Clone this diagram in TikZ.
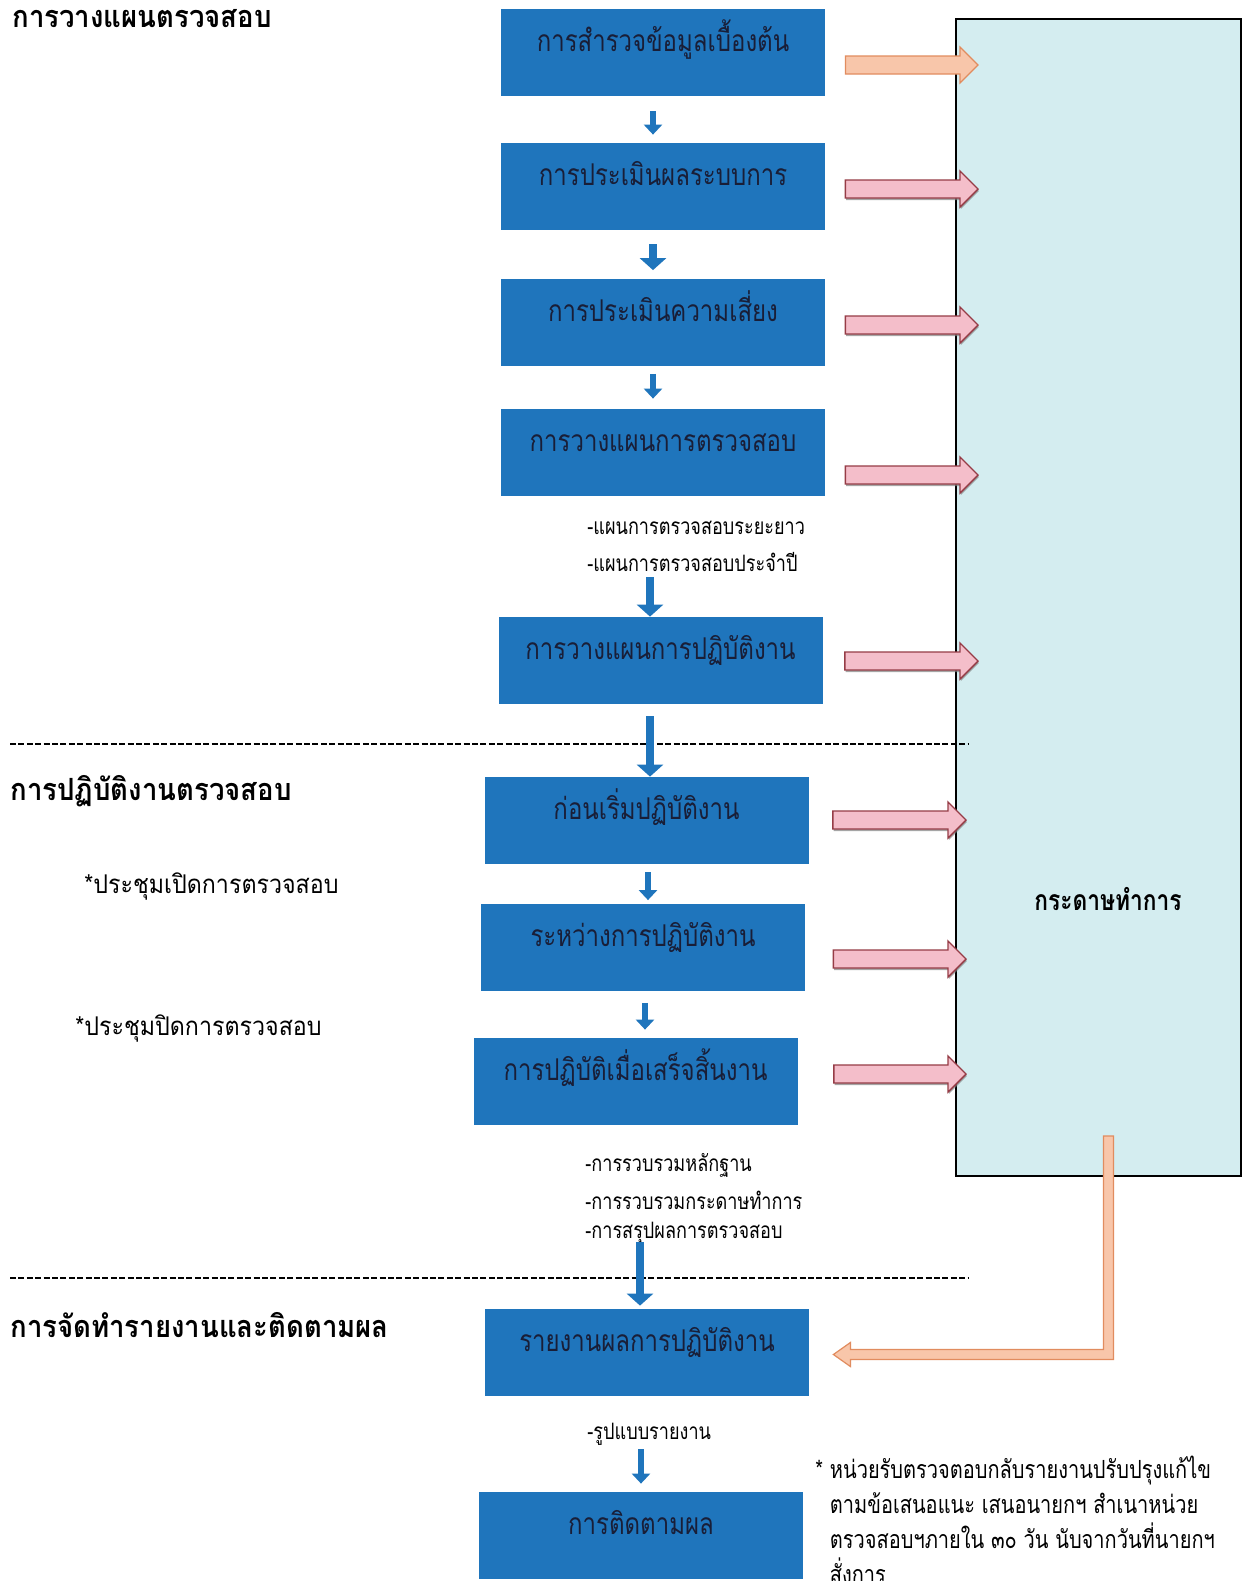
\documentclass[tikz,border=0pt]{standalone}
\usepackage{fontspec}
\newfontfamily\thaihead[Script=Thai, FakeStretch=0.9]{Loma}
\newfontfamily\thaibox[Script=Thai, FakeStretch=0.8]{Loma}
\usetikzlibrary{calc, arrows.meta, shadows}

\definecolor{boxblue}{RGB}{31,117,188}
\definecolor{paperbg}{RGB}{212,237,240}
\definecolor{pinkfill}{RGB}{244,190,202}
\definecolor{pinkline}{RGB}{150,60,70}
\definecolor{peachfill}{RGB}{248,198,170}
\definecolor{peachline}{RGB}{225,140,95}
\definecolor{inktext}{RGB}{25,30,55}

\tikzset{
  stepbox/.style={fill=boxblue, minimum width=162pt, minimum height=43.5pt, inner sep=0pt,
    text height=5pt, text depth=6pt, font=\thaibox\fontsize{15}{18}\selectfont, text=inktext},
  downarr/.style={draw=boxblue, line width=3pt, -{Triangle[width=9pt,length=5pt]}},
  bigdownarr/.style={draw=boxblue, line width=4pt, -{Triangle[width=13pt,length=6pt]}},
  header/.style={anchor=west, inner sep=0pt, font=\thaihead\bfseries\fontsize{15.3}{18}\selectfont},
  sidenote/.style={anchor=west, inner sep=0pt, font=\thaihead\fontsize{12.9}{16}\selectfont},
  sublist/.style={anchor=west, inner sep=0pt, font=\thaibox\fontsize{11.3}{13}\selectfont},
  noteblock/.style={anchor=north west, inner sep=0pt, align=left, font=\thaibox\fontsize{12.5}{17.5}\selectfont},
  sepline/.style={line width=0.6pt, dash pattern=on 3pt off 1.2pt},
  pinkarr/.style={fill=pinkfill, draw=pinkline, line width=0.7pt,
    drop shadow={shadow xshift=0.4pt, shadow yshift=-1pt, opacity=0.7}},
  peacharr/.style={fill=peachfill, draw=peachline, line width=0.6pt},
}

% fat arrow: style, start point, point that gives the x of the tip
\newcommand\fatarrow[3]{%
  \draw[#1] let \p1=#2, \p2=#3 in
    (\x1,\y1+4.5pt) -- (\x2-9pt,\y1+4.5pt) -- (\x2-9pt,\y1+9pt) -- (\x2,\y1)
    -- (\x2-9pt,\y1-9pt) -- (\x2-9pt,\y1-4.5pt) -- (\x1,\y1-4.5pt) -- cycle;}

\begin{document}
\begin{tikzpicture}[x=0.5pt, y=-0.5pt]
  \useasboundingbox (0,0) rectangle (1248,1581);
  \fill[white] (0,0) rectangle (1248,1581);

  % working papers
  \node[draw, line width=1pt, fill=paperbg, minimum width=142.5pt, minimum height=578.5pt,
    inner sep=0pt, anchor=north west] (paper) at (955,18) {};
  \node[font=\thaibox\bfseries\fontsize{14.2}{16}\selectfont] (paperlabel) at (1108,899) {กระดาษทำการ};

  % section lines
  \draw[sepline] (10,744) -- (968,744);
  \draw[sepline] (10,1278) -- (968,1278);

  % headings
  \node[header] (plan) at (12,19) {การวางแผนตรวจสอบ};
  \node[header] (work) at (10,791) {การปฏิบัติงานตรวจสอบ};
  \node[header] (report) at (10,1325) {การจัดทำรายงานและติดตามผล};

  % steps
  \node[stepbox] (b1) at (663,52.5) {การสำรวจข้อมูลเบื้องต้น};
  \node[stepbox] (b2) at (663,186.5) {การประเมินผลระบบการ};
  \node[stepbox] (b3) at (663,322) {การประเมินความเสี่ยง};
  \node[stepbox] (b4) at (663,452.5) {การวางแผนการตรวจสอบ};
  \node[stepbox] (b5) at (660.5,660.5) {การวางแผนการปฏิบัติงาน};
  \node[stepbox] (b6) at (646.5,820.5) {ก่อนเริ่มปฏิบัติงาน};
  \node[stepbox] (b7) at (643,947) {ระหว่างการปฏิบัติงาน};
  \node[stepbox] (b8) at (635.5,1081.5) {การปฏิบัติเมื่อเสร็จสิ้นงาน};
  \node[stepbox] (b9) at (647,1352.5) {รายงานผลการปฏิบัติงาน};
  \node[stepbox] (b10) at (641,1535.5) {การติดตามผล};

  % side texts
  \node[sidenote] (open) at (84,886) {*ประชุมเปิดการตรวจสอบ};
  \node[sidenote] (close) at (75,1028) {*ประชุมปิดการตรวจสอบ};
  \node[sublist] (plan1) at (587,528) {-แผนการตรวจสอบระยะยาว};
  \node[sublist] (plan2) at (587,562) {-แผนการตรวจสอบประจำปี};
  \node[sublist] (end1) at (585,1165) {-การรวบรวมหลักฐาน};
  \node[sublist] (end2) at (585,1200) {-การรวบรวมกระดาษทำการ};
  \node[sublist] (end3) at (585,1233) {-การสรุปผลการตรวจสอบ};
  \node[sublist] (form) at (587,1434) {-รูปแบบรายงาน};
  \node[noteblock] (reply) at (815,1456) {* หน่วยรับตรวจตอบกลับรายงานปรับปรุงแก้ไข\\
    \hphantom{*~}ตามข้อเสนอแนะ เสนอนายกฯ สำเนาหน่วย\\
    \hphantom{*~}ตรวจสอบฯภายใน ๓๐ วัน นับจากวันที่นายกฯ\\
    \hphantom{*~}สั่งการ};

  % flow between steps
  \foreach \p/\q/\dx/\ss/\se in {b1/b2/-5/7.5/4, b3/b4/-5/4/5, b6/b7/0.75/4/1.5,
                                 b7/b8/1/6/4, b9/b10/-3/26.5/4}
    \draw[downarr, shorten <=\ss pt, shorten >=\se pt]
      ([xshift=\dx pt]\p.south) -- ([xshift=\dx pt]\p.south |- \q.north);
  \foreach \p/\q/\dx/\ss/\se in {b2/b3/-5/7/4, b4/b5/-6.5/40.5/0, b5/b6/-5.25/6/0,
                                 b8/b9/2.25/58.5/1.5}
    \draw[bigdownarr, shorten <=\ss pt, shorten >=\se pt]
      ([xshift=\dx pt]\p.south) -- ([xshift=\dx pt]\p.south |- \q.north);

  % to working papers
  \fatarrow{peacharr}{($(b1.east)+(20,12.5)$)}{($(paper.west)+(23,0)$)}
  \foreach \b/\dy/\ds/\de in {b2/2.5/20/23, b3/3/20/23, b4/22.5/20/23, b5/0.5/22/23,
                              b6/-0.5/24/11, b7/12/28/11, b8/-7.5/36/11}
    {\fatarrow{pinkarr}{($(\b.east)+(\ds,\dy)$)}{($(paper.west)+(\de,0)$)}}

  % back to the report
  \coordinate (rs) at ($(paper.south)+(10,-41)$);
  \coordinate (rt) at ($(b9.east)+(24,2)$);
  \draw[peacharr] let \p1=(rs), \p2=(rt) in
    (\x1-2.5pt,\y1) -- (\x1+2.5pt,\y1) -- (\x1+2.5pt,\y2-2.5pt) -- (\x2+8.5pt,\y2-2.5pt)
    -- (\x2+8.5pt,\y2-6pt) -- (\x2,\y2) -- (\x2+8.5pt,\y2+6pt) -- (\x2+8.5pt,\y2+2.5pt)
    -- (\x1-2.5pt,\y2+2.5pt) -- cycle;
\end{tikzpicture}
\end{document}
